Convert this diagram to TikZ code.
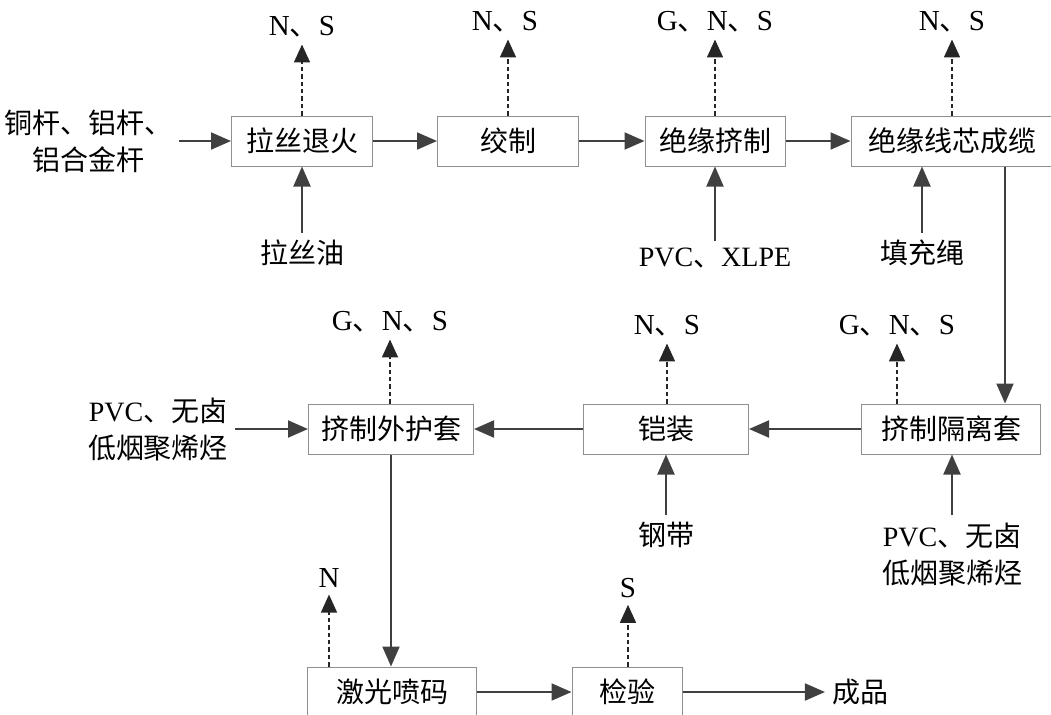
\documentclass[tikz,border=0pt]{standalone}
\usepackage{fontspec}
\setmainfont{Liberation Serif}
\newfontfamily\cjk{Noto Sans CJK SC}
\usetikzlibrary{arrows.meta}
\definecolor{flowgray}{HTML}{404040}
\definecolor{framegray}{HTML}{8F8F8F}
\newcommand{\dun}{{\cjk 、}}

\begin{document}
\begin{tikzpicture}[
    x=0.5pt, y=-0.5pt,
    flowbox/.style={draw=framegray, line width=0.5pt, fill=white, minimum height=25pt, inner sep=0pt, font=\fontsize{14}{18}\selectfont\cjk},
    flowtext/.style={align=center, font=\fontsize{14}{18.5}\selectfont\cjk},
    flowlabel/.style={font=\fontsize{14.5}{18}\selectfont},
    flowarrow/.style={draw=flowgray, line width=1pt, -{Triangle[length=10pt,width=8.5pt]}},
    flowemit/.style={draw=black!85, line width=0.8pt, dash pattern=on 2.2pt off 1.5pt, -{Triangle[length=9pt,width=8pt]}}
]
  \useasboundingbox (0,0) rectangle (1051,714);
  \node[flowbox, minimum width=70.5pt] (drawing) at (302,141) {拉丝退火};
  \node[flowbox, minimum width=70.5pt] (strand) at (508,141) {绞制};
  \node[flowbox, minimum width=70pt] (insul) at (715,141) {绝缘挤制};
  \node[flowbox, minimum width=101pt] (cabling) at (952,141) {绝缘线芯成缆};
  \node[flowbox, minimum width=89.5pt] (septube) at (951,429) {挤制隔离套};
  \node[flowbox, minimum width=82.5pt] (armour) at (666,429) {铠装};
  \node[flowbox, minimum width=82.5pt] (sheath) at (391,429) {挤制外护套};
  \node[flowbox, minimum width=84.5pt] (marking) at (392,692) {激光喷码};
  \node[flowbox, minimum width=55pt] (inspect) at (627,692) {检验};

  \node[flowtext] (rods) at (88,141) {铜杆、铝杆、\\铝合金杆};
  \node[flowtext] (oil) at (302,253) {拉丝油};
  \node[flowtext] (pvcx) at (715,258) {{\rmfamily PVC}、{\rmfamily XLPE}};
  \node[flowtext] (rope) at (922,253) {填充绳};
  \node[flowtext] (tape) at (666,535) {钢带};
  \node[flowtext] (sepmat) at (952,554) {{\rmfamily PVC}、无卤\\低烟聚烯烃};
  \node[flowtext] (sheathmat) at (158,429) {{\rmfamily PVC}、无卤\\低烟聚烯烃};
  \node[flowtext] (product) at (860,692) {成品};

  \node[flowlabel] (drawingout) at (302,27) {N\dun S};
  \node[flowlabel] (strandout) at (505,22) {N\dun S};
  \node[flowlabel] (insulout) at (715,22) {G\dun N\dun S};
  \node[flowlabel] (cablingout) at (952,22) {N\dun S};
  \node[flowlabel] (sheathout) at (390,322) {G\dun N\dun S};
  \node[flowlabel] (armourout) at (667,326) {N\dun S};
  \node[flowlabel] (septubeout) at (897,326) {G\dun N\dun S};
  \node[flowlabel] (markingout) at (329,578) {N};
  \node[flowlabel] (inspectout) at (628,588) {S};

  \draw[flowarrow] (rods) -- (drawing);
  \draw[flowarrow] (drawing) -- (strand);
  \draw[flowarrow] (strand) -- (insul);
  \draw[flowarrow] (insul) -- (cabling);
  \draw[flowarrow] ([xshift=26.5pt]cabling.south) -- ([xshift=26.5pt]cabling.south |- septube.north);
  \draw[flowarrow] (septube) -- (armour);
  \draw[flowarrow] (armour) -- (sheath);
  \draw[flowarrow] (sheathmat) -- (sheath);
  \draw[flowarrow] (sheath.south) -- (sheath.south |- marking.north);
  \draw[flowarrow] (marking) -- (inspect);
  \draw[flowarrow] (inspect) -- (product);

  \draw[flowarrow] (oil) -- (drawing);
  \draw[flowarrow] (pvcx) -- (insul);
  \draw[flowarrow] (rope) -- (rope |- cabling.south);
  \draw[flowarrow] (tape) -- (armour);
  \draw[flowarrow] (sepmat) -- (sepmat |- septube.south);

  \draw[flowemit] (drawing.north) -- (drawingout.south);
  \draw[flowemit] (strand.north) -- (strand.north |- strandout.south);
  \draw[flowemit] (insul.north) -- (insulout.south);
  \draw[flowemit] (cablingout |- cabling.north) -- (cablingout.south);
  \draw[flowemit] (sheathout |- sheath.north) -- (sheathout.south);
  \draw[flowemit] (armourout |- armour.north) -- (armourout.south);
  \draw[flowemit] (septubeout |- septube.north) -- (septubeout.south);
  \draw[flowemit] (markingout |- marking.north) -- (markingout.south);
  \draw[flowemit] (inspectout |- inspect.north) -- (inspectout.south);
\end{tikzpicture}
\end{document}
